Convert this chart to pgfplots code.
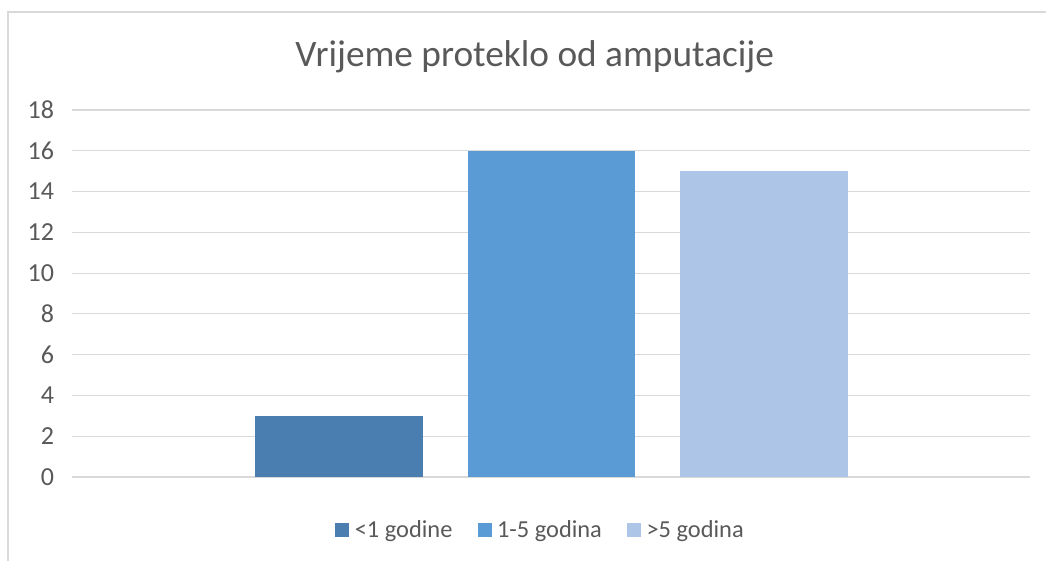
\documentclass[border=0pt]{standalone}
\usepackage{fontspec}
\setmainfont{Carlito}
\usepackage{pgfplots}
\pgfplotsset{compat=1.18}
\definecolor{txt}{HTML}{595959}
\definecolor{grd}{HTML}{D9D9D9}
\definecolor{cA}{HTML}{4A7EB0}
\definecolor{cB}{HTML}{5B9BD5}
\definecolor{cC}{HTML}{ADC5E7}
\begin{document}
\begin{tikzpicture}
\useasboundingbox (0,0) rectangle (784.5pt,420.75pt);
\draw[grd, line width=0.9pt] (6pt,0) -- (6pt,411.75pt) -- (784.5pt,411.75pt);
\node[text=txt, font=\fontsize{28}{33}\selectfont] at (401pt,378pt) {Vrijeme proteklo od amputacije};
\begin{axis}[
  at={(54pt,63pt)}, anchor=south west,
  scale only axis, width=718.5pt, height=275.25pt,
  ybar, bar shift=0pt, bar width=0.786,
  xmin=-0.2565, xmax=4.2518,
  ymin=0, ymax=18, ytick={0,2,...,18},
  xtick=\empty,
  axis line style={draw=none},
  ymajorgrids, major grid style={grd, line width=0.9pt},
  major tick length=0pt,
  yticklabel style={text=txt, font=\fontsize{19.5}{22}\selectfont, xshift=-10pt},
  /pgf/number format/assume math mode=true,
  legend style={at={(0.4895,-0.1444)}, anchor=center, draw=none, fill=none,
    font=\fontsize{18.3}{21}\selectfont, text=txt,
    /tikz/every odd column/.append style={column sep=2pt},
    /tikz/every even column/.append style={column sep=17pt}},
  legend columns=3,
  legend image code/.code={\fill[#1] (0pt,-5.25pt) rectangle (10.5pt,5.25pt);},
]
\addplot[fill=cA, draw=none] coordinates {(1,3)};
\addlegendentry{<1 godine}
\addplot[fill=cB, draw=none] coordinates {(2,16)};
\addlegendentry{1-5 godina}
\addplot[fill=cC, draw=none] coordinates {(3,15)};
\addlegendentry{>5 godina}
\end{axis}
\end{tikzpicture}
\end{document}
